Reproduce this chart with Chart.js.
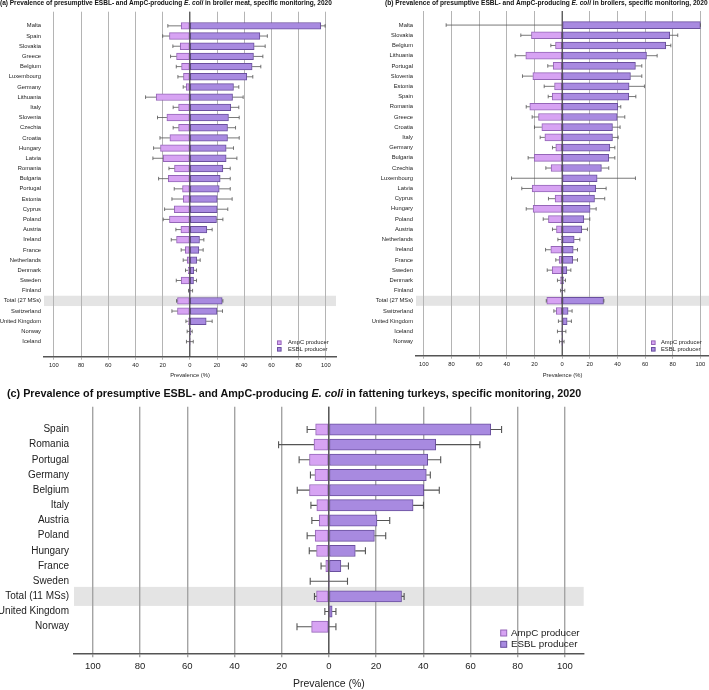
<!DOCTYPE html>
<html>
<head>
<meta charset="utf-8">
<script src="https://cdn.jsdelivr.net/npm/chart.js@4.4.1/dist/chart.umd.min.js"></script>
<style>
  body { margin:0; background:#fff; width:709px; height:690px; position:relative; overflow:hidden;
         font-family:"Liberation Sans", Arial, sans-serif; }
  canvas { position:absolute; }
  .ttl { position:absolute; white-space:nowrap; font-weight:bold; color:#111; line-height:1; }
</style>
</head>
<body>
<canvas id="cA" width="355" height="380" style="left:0;top:0"></canvas>
<canvas id="cB" width="354" height="380" style="left:355px;top:0"></canvas>
<canvas id="cC" width="709" height="310" style="left:0;top:380px"></canvas>
<div class="ttl" id="tA">(a) Prevalence of presumptive ESBL- and AmpC-producing <i>E. coli</i> in broiler meat, specific monitoring, 2020</div>
<div class="ttl" id="tB">(b) Prevalence of presumptive ESBL- and AmpC-producing <i>E. coli</i> in broilers, specific monitoring, 2020</div>
<div class="ttl" id="tC">(c) Prevalence of presumptive ESBL- and AmpC-producing <i>E. coli</i> in fattening turkeys, specific monitoring, 2020</div>
<script>
// (a) broiler meat
const countriesA = ['Malta','Spain','Slovakia','Greece','Belgium','Luxembourg','Germany','Lithuania','Italy','Slovenia','Czechia','Croatia','Hungary','Latvia','Romania','Bulgaria','Portugal','Estonia','Cyprus','Poland','Austria','Ireland','France','Netherlands','Denmark','Sweden','Finland','Total (27 MSs)','Switzerland','United Kingdom','Norway','Iceland'];
const ampcA   = [6.4,15,7.1,9.8,6.1,4.7,2.7,24.8,8.3,16.9,8.3,14.7,21.6,19.6,11.3,15.9,5.4,4.9,11.5,15,6.6,9.8,3.4,2,1.2,6.4,0,9.1,9.1,1,0,0];
const ampcCiA = [16.2,20,12.5,14.2,10,8.8,4.9,32.6,12.3,23.8,12.3,22,26.7,27.2,15.4,23,11.5,13.2,18.6,19.6,10.3,13.7,6.4,4.9,3.2,10,1,9.8,13.2,2.9,2,2.5];
const esblA   = [96.3,51.5,47.3,46.8,45.8,41.9,32.1,31.4,30.1,28.4,27.7,27.7,26.7,26.7,24.3,22.3,21.6,20.1,20.1,19.6,12.5,7.1,6.6,5.1,2.9,2.7,0,23.8,19.9,12,0.6,0];
const esblCiA = [99.5,57,55.4,53.7,52.2,46.3,36,39.2,36,36.3,33.6,36.3,32.1,34.6,29.7,29.7,29.7,31.1,27.9,24.3,16.4,10.3,9.8,7.6,4.9,4.9,2,24.3,24,16.4,1.7,2.5];

// (b) broilers
const countriesB = ['Malta','Slovakia','Belgium','Lithuania','Portugal','Slovenia','Estonia','Spain','Romania','Greece','Croatia','Italy','Germany','Bulgaria','Czechia','Luxembourg','Latvia','Cyprus','Hungary','Poland','Austria','Netherlands','Ireland','France','Sweden','Denmark','Finland','Total (27 MSs)','Switzerland','United Kingdom','Iceland','Norway'];
const ampcB   = [0,22.2,4.8,26.3,6.5,21.2,5.5,7.2,23.4,17.1,14.7,12.5,4.6,20.2,8,0,21.7,5.1,21,9.9,4.1,0.7,8.2,2.2,7.2,1.2,0,11.1,4.3,0,0,0];
const ampcCiB = [83.9,29.9,8.2,34,10.4,28.7,13,10.1,26,21.7,20,15.9,7,24.6,11.8,36.6,29.2,9.9,26,13.7,7,3.1,12,4.6,10.8,3.4,1.2,11.5,6,2.7,3.4,1.9];
const esblB   = [100,77.8,74.9,61,53,49.4,48.4,48.2,40.2,39.8,36.4,36.4,34.5,33.7,28.4,25.3,24.3,23.4,20.2,15.7,14.2,8.7,8,7.7,3.4,1,0,29.9,4.3,3.6,0,0];
const esblCiB = [100,83.6,78.6,68.7,57.6,57.6,59.5,53.3,42.4,45.3,41.9,40.5,38.1,38.1,33.7,53,31.8,30.8,24.6,20,18.3,12.8,11.1,11.1,6.3,2.4,1.9,30.2,7.2,6.7,2.7,1.4];

// (c) fattening turkeys
const countriesC = ['Spain','Romania','Portugal','Germany','Belgium','Italy','Austria','Poland','Hungary','France','Sweden','Total (11 MSs)','United Kingdom','Norway'];
const ampcC   = [5.6,6.3,8.2,5.9,8.2,5.1,4.1,5.8,5.2,1.3,0,5.2,0,7.3];
const ampcCiC = [9.2,21.3,12.6,7.8,13.4,7.6,7.2,9.2,8.3,3.3,7.9,6.1,1.7,13.5];
const esblC   = [68.6,45.3,41.9,41.3,40.2,35.7,20.4,19.3,11.2,5.1,0,30.8,1.4,0];
const esblCiC = [73.2,64,47.4,43,46.8,40.1,25.8,24.1,15.5,8.3,7.9,31.9,3,3];

const xTicks = [-100,-80,-60,-40,-20,0,20,40,60,80,100];
const FONT = '"Liberation Sans", Arial, sans-serif';
const AMPC_FILL = '#d7a3f3', AMPC_LINE = '#9566b8';
const ESBL_FILL = '#a88ae0', ESBL_LINE = '#6a4f9e';

// grey band behind the "Total" row
const bandPlugin = {
  id: 'band',
  beforeDraw(chart, args, o) {
    const { ctx, chartArea, scales } = chart;
    const yc = scales.y.getPixelForValue(o.index);
    ctx.save();
    ctx.fillStyle = '#e4e4e4';
    ctx.fillRect(chartArea.left, yc - o.height / 2, chartArea.right - chartArea.left, o.height);
    ctx.restore();
  }
};

// zero line, error bars and legend
const extrasPlugin = {
  id: 'extras',
  afterDatasetsDraw(chart, args, o) {
    const { ctx, chartArea, scales } = chart;
    const x0 = scales.x.getPixelForValue(0);
    ctx.save();
    ctx.strokeStyle = '#333';
    ctx.lineWidth = 1;
    ctx.beginPath();
    ctx.moveTo(x0, chartArea.top);
    ctx.lineTo(x0, chartArea.bottom);
    ctx.stroke();

    ctx.strokeStyle = '#555';
    ctx.lineWidth = o.errWidth;
    chart.data.datasets.forEach((ds, di) => {
      chart.getDatasetMeta(di).data.forEach((bar, i) => {
        const xe = scales.x.getPixelForValue(ds.sign * ds.ci[i]);
        ctx.beginPath();
        ctx.moveTo(bar.x, bar.y);
        ctx.lineTo(xe, bar.y);
        ctx.moveTo(xe, bar.y - o.cap);
        ctx.lineTo(xe, bar.y + o.cap);
        ctx.stroke();
      });
    });
    ctx.restore();
  },
  afterDraw(chart, args, o) {
    const ctx = chart.ctx;
    ctx.save();
    ctx.font = o.fontSize + 'px ' + FONT;
    ctx.textBaseline = 'middle';
    chart.data.datasets.forEach((ds, di) => {
      const y = o.y[di], s = o.box;
      ctx.fillStyle = ds.backgroundColor;
      ctx.strokeStyle = ds.borderColor;
      ctx.lineWidth = 1;
      ctx.fillRect(o.x - s / 2, y - s / 2, s, s);
      ctx.strokeRect(o.x - s / 2, y - s / 2, s, s);
      ctx.fillStyle = '#222';
      ctx.fillText(ds.label, o.textX, y);
    });
    ctx.restore();
  }
};

function makePanel(id, p) {
  return new Chart(document.getElementById(id), {
    type: 'bar',
    data: {
      datasets: [
        { label: 'AmpC producer', data: p.ampc.map((v, i) => ({ x: -v, y: i })), ci: p.ampcCi, sign: -1,
          backgroundColor: AMPC_FILL, borderColor: AMPC_LINE },
        { label: 'ESBL producer', data: p.esbl.map((v, i) => ({ x: v, y: i })), ci: p.esblCi, sign: 1,
          backgroundColor: ESBL_FILL, borderColor: ESBL_LINE }
      ]
    },
    options: {
      indexAxis: 'y',
      responsive: false,
      animation: false,
      events: [],
      datasets: {
        bar: {
          grouped: false,
          barThickness: p.barH,
          borderSkipped: false,
          borderWidth: c => (c.raw && c.raw.x === 0 ? 0 : 1)
        }
      },
      layout: { padding: { top: p.top, right: p.right, left: 0, bottom: 0 } },
      plugins: {
        legend: { display: false },
        tooltip: { enabled: false },
        band: { index: p.labels.findIndex(l => l.startsWith('Total')), height: p.bandH },
        extras: { errWidth: p.errW, cap: p.cap, x: p.legX, textX: p.legTextX, y: p.legY, box: p.legBox, fontSize: p.legFont }
      },
      scales: {
        x: {
          type: 'linear', min: p.xMin, max: p.xMax,
          afterBuildTicks: s => { s.ticks = xTicks.map(v => ({ value: v })); },
          afterFit: s => { s.height = p.xH; },
          grid: { color: p.gridC, lineWidth: p.gridW, tickLength: p.tickLen },
          border: { display: true, color: '#555', width: 1.5 },
          ticks: { autoSkip: false, maxRotation: 0, padding: p.tickPad, color: '#222',
                   font: { family: FONT, size: p.tickFont }, callback: v => Math.abs(v) },
          title: { display: true, text: 'Prevalence (%)', color: '#222',
                   font: { family: FONT, size: p.titleFont }, padding: { top: 0, bottom: p.titlePad } }
        },
        y: {
          type: 'linear', reverse: true, min: p.yMin, max: p.yMax,
          afterBuildTicks: s => { s.ticks = p.labels.map((_, i) => ({ value: i })); },
          afterFit: s => { s.width = p.yW; },
          grid: { display: false, drawTicks: false },
          border: { display: false },
          ticks: { autoSkip: false, padding: p.labelPad, color: '#222',
                   font: { family: FONT, size: p.labelFont }, callback: v => p.labels[v] ?? '' }
        }
      }
    },
    plugins: [bandPlugin, extrasPlugin]
  });
}

makePanel('cA', {
  labels: countriesA, ampc: ampcA, ampcCi: ampcCiA, esbl: esblA, esblCi: esblCiA,
  xMin: -107.3, xMax: 107.5, yMin: -0.86, yMax: 31.95, top: 11.7, right: 19, yW: 44, xH: 23.3,
  barH: 6.7, bandH: 10.3, errW: 0.8, cap: 1.8, gridW: 1, gridC: '#b4b4b4', tickLen: 3, tickPad: 2.5, titlePad: 1.5,
  tickFont: 5.8, titleFont: 5.8, labelFont: 5.8, labelPad: 3,
  legX: 279.3, legTextX: 288, legY: [342.7, 349.3], legBox: 3.6, legFont: 5.8
});

makePanel('cB', {
  labels: countriesB, ampc: ampcB, ampcCi: ampcCiB, esbl: esblB, esblCi: esblCiB,
  xMin: -105.7, xMax: 106.2, yMin: -0.85, yMax: 31.85, top: 11, right: 0, yW: 61, xH: 24.3,
  barH: 7, bandH: 10, errW: 0.8, cap: 1.8, gridW: 1, gridC: '#b4b4b4', tickLen: 3, tickPad: 2.5, titlePad: 1.5,
  tickFont: 5.8, titleFont: 5.8, labelFont: 5.8, labelPad: 3,
  legX: 298.3, legTextX: 306, legY: [342.7, 349.3], legBox: 3.6, legFont: 5.8
});

makePanel('cC', {
  labels: countriesC, ampc: ampcC, ampcCi: ampcCiC, esbl: esblC, esblCi: esblCiC,
  xMin: -108, xMax: 108, yMin: -0.92, yMax: 14.17, top: 26.7, right: 125.3, yW: 74, xH: 36.7,
  barH: 11.3, bandH: 19, errW: 1.1, cap: 3.5, gridW: 1.4, gridC: '#a4a4a4', tickLen: 4, tickPad: 3.5, titlePad: 0,
  tickFont: 9.5, titleFont: 10.5, labelFont: 10, labelPad: 5,
  legX: 503.7, legTextX: 511, legY: [253, 264.3], legBox: 6, legFont: 9.8
});

// size titles to the width they take in the figure
function fitTitle(id, left, width, cy) {
  const el = document.getElementById(id);
  el.style.fontSize = '10px';
  const w = el.getBoundingClientRect().width;
  el.style.fontSize = (10 * width / w) + 'px';
  const h = el.getBoundingClientRect().height;
  el.style.left = left + 'px';
  el.style.top = (cy - h / 2) + 'px';
}
fitTitle('tA', 0, 333, 3);
fitTitle('tB', 385, 323, 3);
fitTitle('tC', 7, 575, 393.3);
</script>
</body>
</html>
